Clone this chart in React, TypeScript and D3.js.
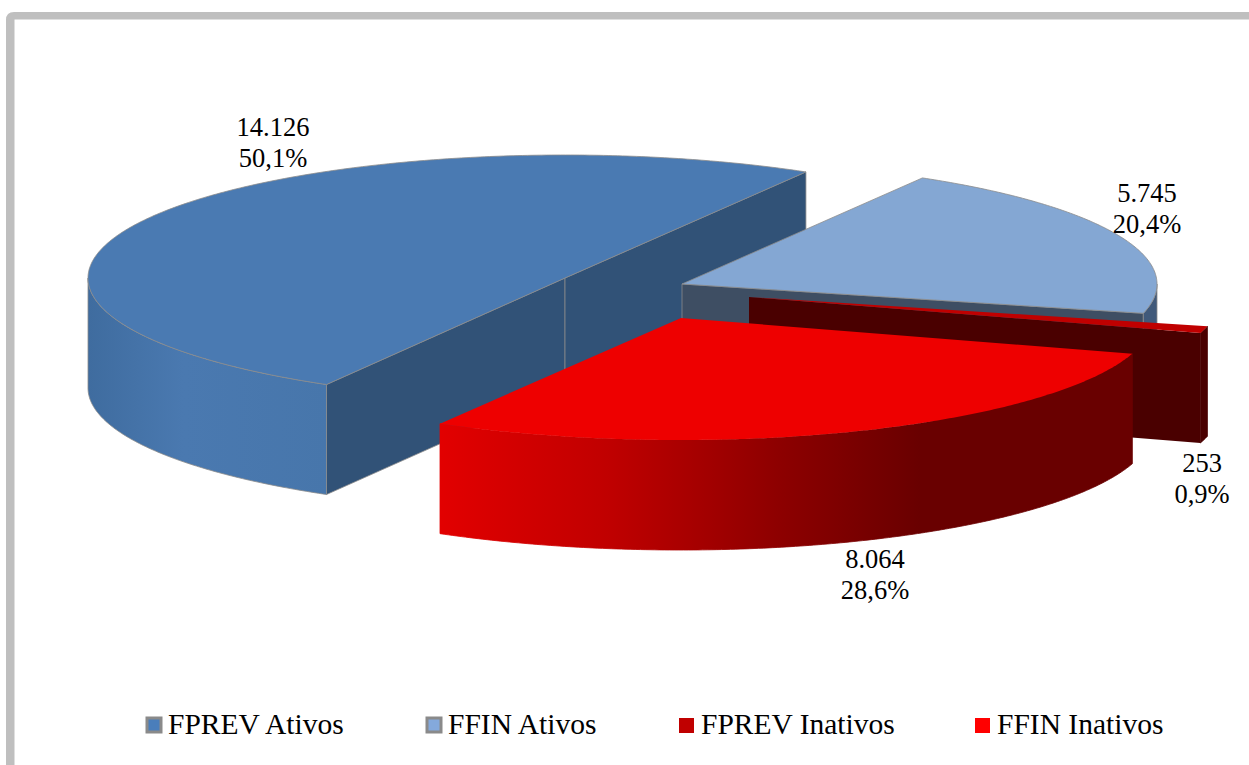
import React from "react";
import * as d3 from "d3";

const categories = ["FPREV Ativos", "FFIN Ativos", "FPREV Inativos", "FFIN Inativos"];
const values = [14126, 5745, 253, 8064];
const percents = [50.1, 20.4, 0.9, 28.6];

const W = 1249, H = 765, DEPTH = 110;
const layout = [
  { cx: 565, cy: 278, rxL: 477, rxR: 476, ry: 123, top: "#4a7ab2", wall: "#315277", side: "url(#gBlue)", stroke: "#8c8c8c" },
  { cx: 682, cy: 284, rxL: 477, rxR: 475, ry: 123, top: "#84a7d3", wall: "#3e4e63", side: "#40597a", stroke: "#8c8c8c" },
  { cx: 749, cy: 297, rxL: 472, rxR: 472, ry: 123, top: "#c00000", wall: "#4a0000", side: "#4a0000", stroke: "none" },
  { cx: 681, cy: 318, rxL: 482, rxR: 472, ry: 122, top: "#ee0000", wall: "#6b0000", side: "url(#gRed)", stroke: "none" },
];
const labelPos = [[273, 136], [1147, 202], [1202, 472], [875, 568]];
const legendX = [146, 426, 679, 975];
const swatch = [
  { fill: "#4a7ebb", stroke: "#8a8a8a" },
  { fill: "#84a9dc", stroke: "#8a8a8a" },
  { fill: "#c00000", stroke: "none" },
  { fill: "#ff0000", stroke: "none" },
];
const FONT = "'Liberation Serif', 'Times New Roman', serif";

const ptBr = d3.formatLocale({ decimal: ",", thousands: ".", grouping: [3], currency: ["", ""] });
const fmtValue = ptBr.format(",d");
const fmtPct = (p: number) => ptBr.format(".1f")(p) + "%";

// Tilted pie: d3.pie gives the angles (clockwise from north), the ellipse is the projection.
const ROT = 210;
const arcs = d3.pie<number>().sort(null)
  .startAngle((ROT * Math.PI) / 180)
  .endAngle(((ROT + 360) * Math.PI) / 180)(values);

type L = (typeof layout)[number];
const pt = (l: L, a: number, dy = 0): [number, number] => {
  const s = Math.sin(a);
  return [l.cx + s * (s < 0 ? l.rxL : l.rxR), l.cy - Math.cos(a) * l.ry + dy];
};
const sweep = (a0: number, a1: number) => {
  const n = Math.max(2, Math.ceil(Math.abs(a1 - a0) / 0.01));
  return d3.range(n + 1).map((i) => a0 + ((a1 - a0) * i) / n);
};
const line = d3.line<[number, number]>();
const close = (p: [number, number][]) => (line(p) as string) + "Z";

const topPath = (l: L, a0: number, a1: number) =>
  close([[l.cx, l.cy], ...sweep(a0, a1).map((a) => pt(l, a))]);
const wallPath = (l: L, a: number) =>
  close([[l.cx, l.cy], pt(l, a), pt(l, a, DEPTH), [l.cx, l.cy + DEPTH]]);
const sidePath = (l: L, a0: number, a1: number) => {
  const as = sweep(a0, a1);
  return close([...as.map((a) => pt(l, a)), ...as.slice().reverse().map((a) => pt(l, a, DEPTH))]);
};
// the outer rim faces the viewer only on the lower half of the ellipse
const frontRanges = (a0: number, a1: number): [number, number][] => {
  const p = Math.PI;
  const out: [number, number][] = [];
  for (const k of [0, 1]) {
    const lo = Math.max(a0, p / 2 + 2 * p * k), hi = Math.min(a1, (3 * p) / 2 + 2 * p * k);
    if (lo < hi) out.push([lo, hi]);
  }
  return out;
};

export default function App() {
  return (
    <svg width={W} height={H} style={{ position: "absolute", left: 0, top: 0, background: "#fff" }} fontFamily={FONT}>
      <defs>
        <linearGradient id="gRed" gradientUnits="userSpaceOnUse" x1={440} x2={920} y1={0} y2={0}>
          <stop offset="0" stopColor="#e20000" />
          <stop offset="0.35" stopColor="#c00000" />
          <stop offset="0.7" stopColor="#8e0000" />
          <stop offset="1" stopColor="#690000" />
        </linearGradient>
        <linearGradient id="gBlue" gradientUnits="userSpaceOnUse" x1={88} x2={327} y1={0} y2={0}>
          <stop offset="0" stopColor="#3f6c9f" />
          <stop offset="0.4" stopColor="#4a79b0" />
          <stop offset="1" stopColor="#4776ab" />
        </linearGradient>
      </defs>
      <path d="M6,765V20Q6,12 14,12H1249V19.5H14.5V765Z" fill="#bfbfbf" />
      {arcs.map((d, i) => {
        const l = layout[i];
        const a0 = d.startAngle, a1 = d.endAngle;
        const sw = 0.8;
        return (
          <g key={categories[i]}>
            {Math.sin(a0) < 0 && <path d={wallPath(l, a0)} fill={l.wall} stroke={l.stroke} strokeWidth={sw} />}
            {Math.sin(a1) > 0 && <path d={wallPath(l, a1)} fill={l.wall} stroke={l.stroke} strokeWidth={sw} />}
            {frontRanges(a0, a1).map(([lo, hi]) => (
              <path key={lo} d={sidePath(l, lo, hi)} fill={l.side} stroke={l.stroke === "none" ? l.side : l.stroke} strokeWidth={sw} />
            ))}
            <path d={topPath(l, a0, a1)} fill={l.top} stroke={l.stroke} strokeWidth={sw} />
          </g>
        );
      })}
      {values.map((v, i) => (
        <text key={i} x={labelPos[i][0]} y={labelPos[i][1]} fontSize={26.5} fill="#000" textAnchor="middle">
          <tspan x={labelPos[i][0]}>{fmtValue(v)}</tspan>
          <tspan x={labelPos[i][0]} dy={31}>{fmtPct(percents[i])}</tspan>
        </text>
      ))}
      {categories.map((c, i) => (
        <g key={c}>
          <rect
            x={legendX[i] + (swatch[i].stroke === "none" ? 0 : 1)}
            y={718}
            width={swatch[i].stroke === "none" ? 15 : 14}
            height={swatch[i].stroke === "none" ? 15 : 14}
            fill={swatch[i].fill}
            stroke={swatch[i].stroke}
            strokeWidth={3}
          />
          <text x={legendX[i] + 22} y={734} fontSize={29.5} fill="#000">{c}</text>
        </g>
      ))}
    </svg>
  );
}
